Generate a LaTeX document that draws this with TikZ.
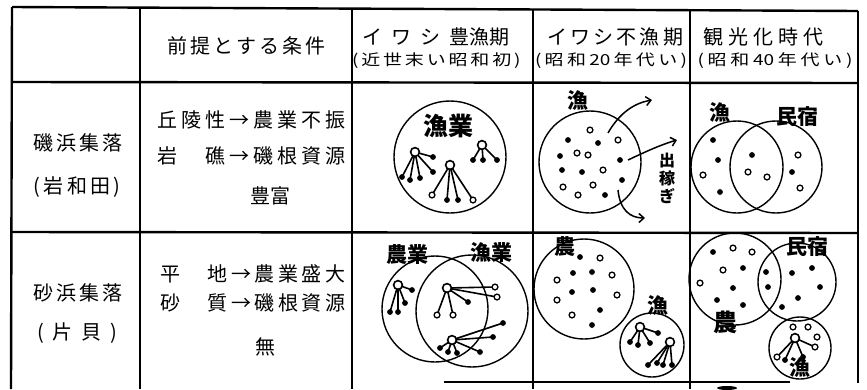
\documentclass[tikz,border=0pt]{standalone}
\usepackage{fontspec}
\setmainfont{Noto Sans CJK JP}
\usepackage{graphicx}
\usetikzlibrary{arrows.meta}
\newcommand\kin[3]{%
  \foreach \a/\b/\s in {#3} {\draw[stk] (#1,#2) -- (\a,\b); \path[\s] (\a,\b) circle (2.9);}
  \draw[stk,fill=white] (#1,#2) circle (4.4);}
\newcommand\spots[1]{\foreach \a/\b/\s in {#1} {\path[\s] (\a,\b) circle (2.9);}}
\begin{document}
\begin{tikzpicture}[x=1pt,y=-1pt,
  tbl/.style={line width=2.4pt},
  ring/.style={line width=1.4pt},
  stk/.style={line width=1.6pt},
  f/.style={fill=black},
  o/.style={draw,line width=1.3pt,fill=white},
  txt/.style={inner sep=0pt,font=\fontsize{20}{24}\selectfont},
  sub/.style={inner sep=0pt,font=\fontsize{19}{22}\selectfont},
  lbl/.style={inner sep=0pt,font=\fontsize{21}{22}\selectfont\bfseries},
  arr/.style={line width=1.5pt,-{Straight Barb[length=5pt,width=9pt]}}]
\useasboundingbox (0,0) rectangle (867,389);
\fill[white] (0,0) rectangle (867,389);
% table
\draw[tbl] (12,7) -- (858,11);
\draw[tbl] (12,82) -- (858,83);
\draw[tbl] (12,232) -- (858,233);
\draw[tbl] (12,7) -- (11,389);
\draw[tbl] (140,7) -- (140,389);
\draw[tbl] (352,8) -- (352,389);
\draw[tbl] (533,9) -- (533,389);
\draw[tbl] (690,10) -- (690,389);
\draw[tbl] (858,11) -- (858,383);
\draw[line width=1.6pt] (444,382) -- (790,382);
\fill (727,388) ellipse (10 and 2);
% header
\node[txt] (h0) at (246,46) {\makebox[157pt][s]{前 提 と す る 条 件}};
\node[txt] (h1a) at (436,37) {\makebox[147pt][s]{イ ワ シ 豊漁期}};
\node[sub] (h1b) at (435,61) {\scalebox{1}[0.8]{\makebox[166pt][s]{( 近 世 末 い 昭 和 初 )}}};
\node[txt] (h2a) at (615,37) {\makebox[136pt][s]{イ ワ シ 不 漁 期}};
\node[sub] (h2b) at (611,61) {\scalebox{1}[0.8]{\makebox[152pt][s]{( 昭 和 20 年 代 い )}}};
\node[txt] (h3a) at (763,37) {\makebox[120pt][s]{観 光 化 時 代}};
\node[sub] (h3b) at (775,61) {\scalebox{1}[0.8]{\makebox[155pt][s]{( 昭 和 40 年 代 い )}}};
% row labels
\node[txt] (r1a) at (77,143) {\makebox[87pt][s]{磯 浜 集 落}};
\node[txt] (r1b) at (77,187) {\makebox[87pt][s]{( 岩 和 田 )}};
\node[txt] (r2a) at (77,293) {\makebox[87pt][s]{砂 浜 集 落}};
\node[txt] (r2b) at (77,333) {\makebox[80pt][s]{( 片 貝 )}};
% conditions
\node[txt] (c11) at (251,120) {\makebox[188pt][s]{丘 陵 性 → 農 業 不 振}};
\node[txt] (c12) at (251,156) {\makebox[188pt][s]{岩 　 礁 → 磯 根 資 源}};
\node[txt] (c13) at (270,196) {豊富};
\node[txt] (c21) at (253,274) {\makebox[185pt][s]{平 　 地 → 農 業 盛 大}};
\node[txt] (c22) at (253,303) {\makebox[185pt][s]{砂 　 質 → 磯 根 資 源}};
\node[txt] (c23) at (265,347) {無};
% cell 1
\draw[ring] (450,157) circle (56);
\node[lbl,font=\fontsize{25}{26}\selectfont\bfseries] (g1) at (448,126) {漁業};
\kin{415}{152}{402/177/f,410/180/f,420/178/f,433/172/f,433/157/f}
\kin{450}{165}{432/195/o,447/200/f,458/200/f,473/200/o}
\kin{482}{145}{473/160/f,483/160/f,497/160/f}
% cell 2
\draw[ring] (590,162) circle (51);
\node[lbl] (g2) at (578,101) {漁};
\spots{590/130/o,598/143/f,618/140/o,577/153/o,588/155/o,620/160/f,582/172/f,603/170/o,622/180/f,593/185/o,578/195/o,605/195/f,568/140/f,560/156/f,562/170/f,563/187/o}
\coordinate (a1s) at (608,133); \coordinate (a1e) at (652,100);
\coordinate (a2s) at (628,160); \coordinate (a2e) at (677,140);
\coordinate (a3s) at (618,190); \coordinate (a3e) at (645,218);
\draw[arr] (a1s) .. controls (620,112) and (635,103) .. (a1e);
\draw[arr] (a2s) .. controls (645,152) and (660,145) .. (a2e);
\draw[arr] (a3s) .. controls (620,210) and (630,218) .. (a3e);
\node[lbl,font=\fontsize{16}{18}\selectfont\bfseries,align=center] (g3) at (667,178) {出\\稼\\ぎ};
% cell 3
\draw[ring] (737,167) circle (46);
\draw[ring] (776,167) circle (46);
\node[lbl] (g4) at (720,113) {漁};
\node[lbl] (g5) at (797,117) {民宿};
\spots{713/140/f,718/160/f,703/175/o,720/192/f,752/155/f,748/172/o,767/177/o,798/155/o,792/172/f,800/188/o}
% cell 4
\draw[ring] (435,309) circle (53);
\draw[ring] (472,311) circle (56);
\node[lbl] (g6) at (407,255) {農業};
\node[lbl] (g7) at (491,253) {漁業};
\kin{398}{285}{390/312/f,398/312/f,405/303/f,412/290/f}
\kin{447}{288}{437/315/o,453/315/o,468/302/f,495/287/o,497/297/o}
\kin{452}{340}{440/348/f,448/352/f,457/353/f,480/352/f,493/337/f,503/323/f}
% cell 5
\draw[ring] (584,289) circle (50);
\draw[ring] (652,345) circle (32);
\node[lbl] (g8) at (565,247) {農};
\node[lbl] (g9) at (658,306) {漁};
\spots{580/257/f,600/258/o,573/273/f,592/272/f,612/275/o,572/292/f,593/290/f,617/295/o,572/315/o,600/310/f,592/325/f,557/280/o,557/300/o}
\kin{640}{327}{630/342/f,638/345/f,650/343/f,658/333/f}
\kin{670}{342}{648/365/f,657/363/f,663/365/f,672/365/f}
% cell 6
\draw[ring] (735,279) circle (46);
\draw[ring] (797,282) circle (39);
\draw[ring] (800,348) circle (31);
\node[lbl] (g10) at (807,247) {民宿};
\node[lbl,font=\fontsize{24}{26}\selectfont\bfseries] (g11) at (725,322) {農};
\node[lbl] (g12) at (800,368) {漁};
\spots{713/252/f,733/248/o,752/252/o,723/270/o,743/268/f,700/283/o,733/288/f,717/300/f,743/305/f,766/272/f,768/287/f,792/273/f,812/268/f,820/287/f,798/298/f,782/307/f,793/327/o,808/327/o,817/337/o}
\kin{795}{338}{777/357/o,785/360/f,803/357/f,815/347/o}
\end{tikzpicture}
\end{document}
